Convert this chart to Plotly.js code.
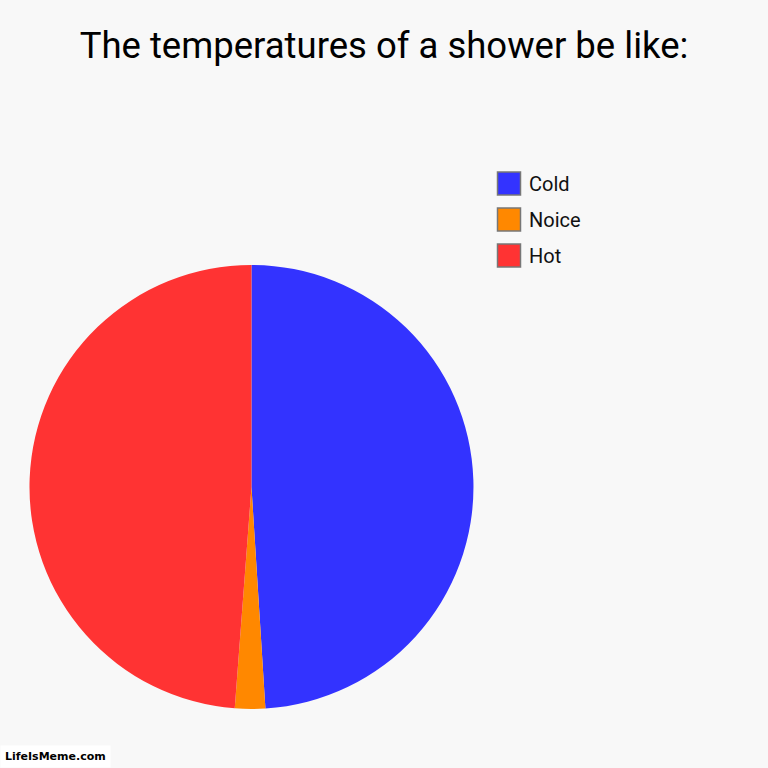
<!DOCTYPE html>
<html>
<head>
<meta charset="utf-8">
<script src="https://cdn.plot.ly/plotly-3.0.1.min.js"></script>
<style>
  html, body { margin: 0; padding: 0; background: #f8f8f8; }
  #chart { width: 768px; height: 768px; }
</style>
</head>
<body>
<div id="chart"></div>
<script>
var labels = ['Cold', 'Noice', 'Hot'];
var values = [49, 2.2, 48.8];
var colors = ['#3333ff', '#ff8800', '#ff3333'];

var W = 768, H = 768;

var data = [{
  type: 'pie',
  labels: labels,
  values: values,
  sort: false,
  direction: 'clockwise',
  rotation: 0,
  textinfo: 'none',
  hoverinfo: 'label+percent',
  showlegend: false,
  marker: { colors: colors, line: { width: 0 } },
  domain: { x: [0.0384, 0.6165], y: [0.0768, 0.655] }
}];

// legend drawn by hand so the swatches are big like the original
var shapes = [];
var annotations = [];
labels.forEach(function (lab, i) {
  var top = 172 + i * 36;
  shapes.push({
    type: 'rect', xref: 'paper', yref: 'paper',
    x0: 497.5 / W, x1: 520.5 / W,
    y0: 1 - (top + 23) / H, y1: 1 - top / H,
    fillcolor: colors[i],
    line: { color: '#777', width: 1.5 }
  });
  annotations.push({
    text: lab, xref: 'paper', yref: 'paper',
    x: 527 / W, y: 1 - (top + 12) / H,
    xanchor: 'left', yanchor: 'middle',
    showarrow: false,
    font: { family: 'Roboto, sans-serif', size: 20, color: '#111' }
  });
});

annotations.push({
  text: '<b>LifeIsMeme.com</b>',
  xref: 'paper', yref: 'paper',
  x: 0, y: 0,
  xanchor: 'left', yanchor: 'bottom',
  showarrow: false,
  bgcolor: '#ffffff',
  borderpad: 4,
  font: { family: '"DejaVu Sans", sans-serif', size: 11, color: '#000' }
});

var layout = {
  width: W,
  height: H,
  margin: { l: 0, r: 0, t: 0, b: 0 },
  paper_bgcolor: '#f8f8f8',
  font: { family: 'Roboto, sans-serif', color: '#111' },
  title: {
    text: 'The temperatures of a shower be like:',
    font: { family: 'Roboto, sans-serif', size: 36.5, color: '#000' },
    x: 0.5,
    xanchor: 'center',
    y: 1 - 45 / H,
    yanchor: 'middle',
    yref: 'container'
  },
  showlegend: false,
  shapes: shapes,
  annotations: annotations
};

Plotly.newPlot('chart', data, layout, { displayModeBar: false, staticPlot: true });
</script>
</body>
</html>
